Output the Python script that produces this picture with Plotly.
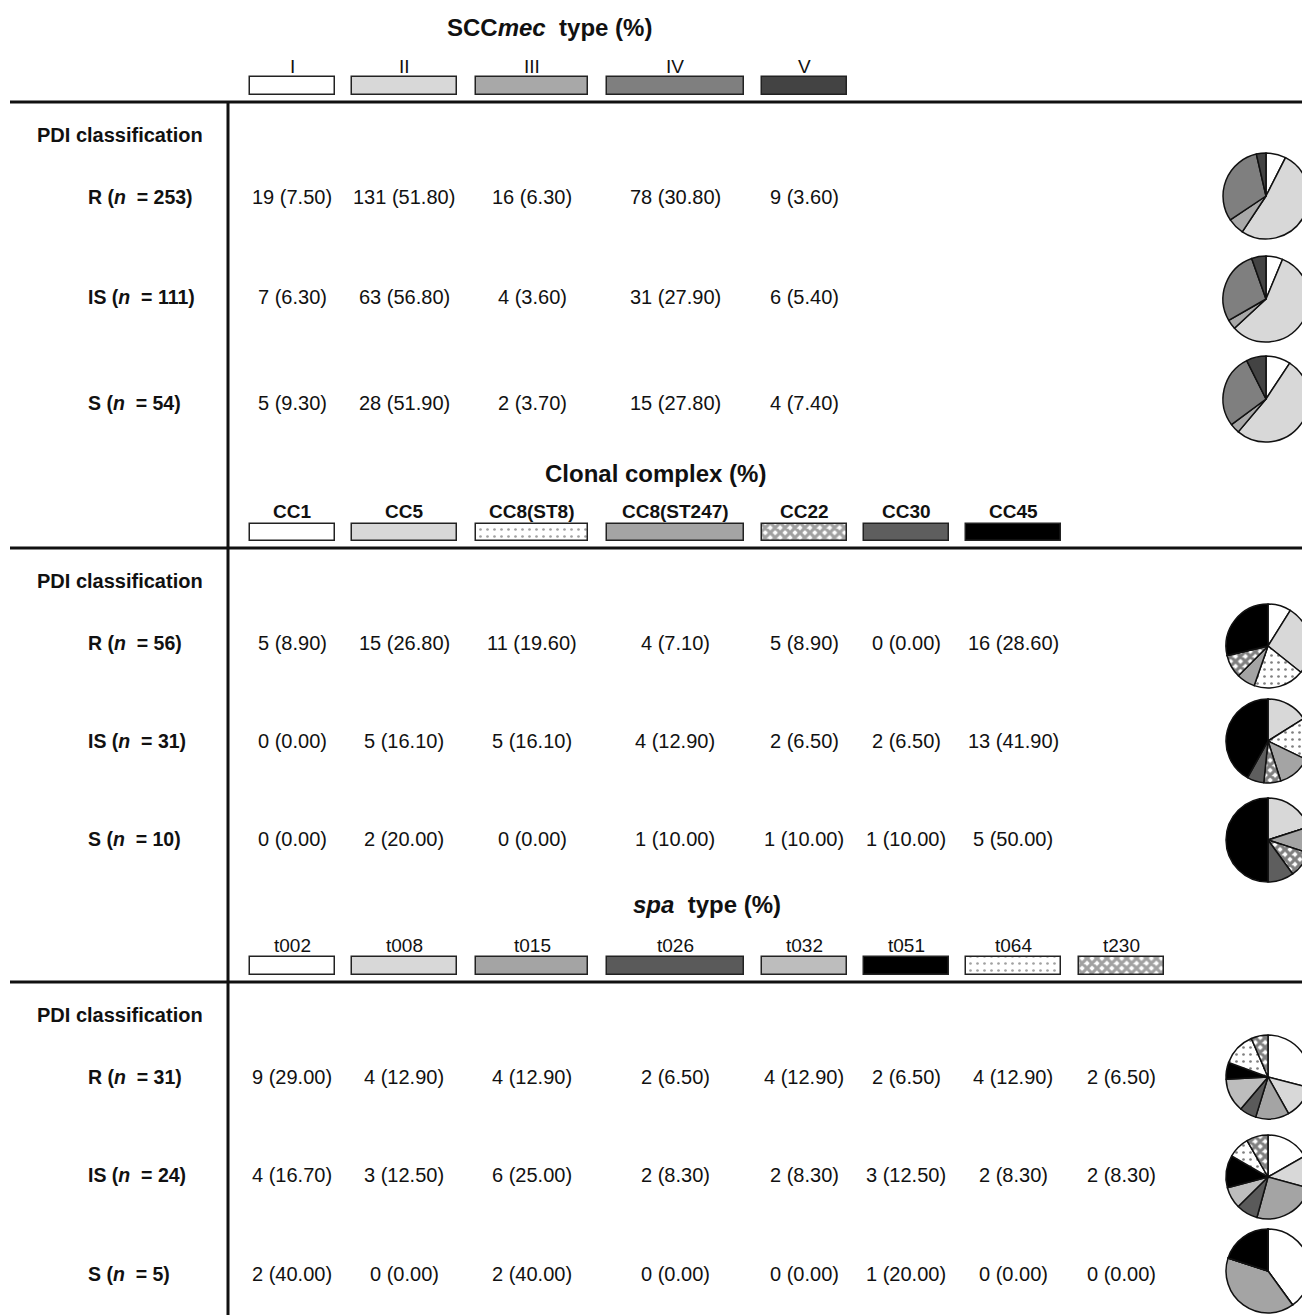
import plotly.graph_objects as go

OFF = 8  # page body margin in the browser
W, H = 1310 - OFF, 1315 - OFF  # figure size so the page fits the window without scrollbars

# ---------------- data ----------------
groups = ["R", "IS", "S"]

scc_title = "SCC<i>mec</i>  type (%)"
scc_cats = ["I", "II", "III", "IV", "V"]
scc_n = [253, 111, 54]
scc_counts = [[19, 131, 16, 78, 9], [7, 63, 4, 31, 6], [5, 28, 2, 15, 4]]
scc_pct = [[7.50, 51.80, 6.30, 30.80, 3.60],
           [6.30, 56.80, 3.60, 27.90, 5.40],
           [9.30, 51.90, 3.70, 27.80, 7.40]]

cc_title = "Clonal complex (%)"
cc_cats = ["CC1", "CC5", "CC8(ST8)", "CC8(ST247)", "CC22", "CC30", "CC45"]
cc_n = [56, 31, 10]
cc_counts = [[5, 15, 11, 4, 5, 0, 16], [0, 5, 5, 4, 2, 2, 13], [0, 2, 0, 1, 1, 1, 5]]
cc_pct = [[8.90, 26.80, 19.60, 7.10, 8.90, 0.00, 28.60],
          [0.00, 16.10, 16.10, 12.90, 6.50, 6.50, 41.90],
          [0.00, 20.00, 0.00, 10.00, 10.00, 10.00, 50.00]]

spa_title = "<i>spa</i>  type (%)"
spa_cats = ["t002", "t008", "t015", "t026", "t032", "t051", "t064", "t230"]
spa_n = [31, 24, 5]
spa_counts = [[9, 4, 4, 2, 4, 2, 4, 2], [4, 3, 6, 2, 2, 3, 2, 2], [2, 0, 2, 0, 0, 1, 0, 0]]
spa_pct = [[29.00, 12.90, 12.90, 6.50, 12.90, 6.50, 12.90, 6.50],
           [16.70, 12.50, 25.00, 8.30, 8.30, 12.50, 8.30, 8.30],
           [40.00, 0.00, 40.00, 0.00, 0.00, 20.00, 0.00, 0.00]]

# ---------------- styles ----------------
scc_colors = ["#ffffff", "#d8d8d8", "#a8a8a8", "#7f7f7f", "#434343"]
scc_shapes = ["", "", "", "", ""]
cc_colors = ["#ffffff", "#d8d8d8", "#ffffff", "#a4a4a4", "#ffffff", "#5e5e5e", "#000000"]
cc_shapes = ["", "", "dots", "", "checker", "", ""]
spa_colors = ["#ffffff", "#d8d8d8", "#a4a4a4", "#5a5a5a", "#bdbdbd", "#000000", "#ffffff", "#ffffff"]
spa_shapes = ["", "", "", "", "", "", "dots", "checker"]

col_x = [292, 404, 532, 675, 804, 906, 1013, 1121]
col_w = [85, 105, 112, 137, 85, 85, 95, 85]

FONT = "Liberation Sans, Arial, sans-serif"

sections = [
    dict(title=scc_title, title_x=549, title_y=27, cats=scc_cats, n=scc_n, counts=scc_counts,
         pct=scc_pct, colors=scc_colors, shapes=scc_shapes, lab_y=66, sw_y=86, sw_h=18,
         line_y=102, pdi_y=135, row_y=[197, 297, 403], pie_y=[196, 299, 399], pie_x=1266,
         pie_r=43, lab_bold=False),
    dict(title=cc_title, title_x=655, title_y=473, cats=cc_cats, n=cc_n, counts=cc_counts,
         pct=cc_pct, colors=cc_colors, shapes=cc_shapes, lab_y=511, sw_y=532.5, sw_h=17,
         line_y=548, pdi_y=581, row_y=[643, 741, 839], pie_y=[646, 741, 840], pie_x=1268,
         pie_r=42, lab_bold=True),
    dict(title=spa_title, title_x=707, title_y=904, cats=spa_cats, n=spa_n, counts=spa_counts,
         pct=spa_pct, colors=spa_colors, shapes=spa_shapes, lab_y=945, sw_y=966, sw_h=18,
         line_y=982, pdi_y=1015, row_y=[1077, 1175, 1274], pie_y=[1077, 1177, 1271], pie_x=1269,
         pie_r=43, lab_bold=False),
]


def pattern_for(shapes):
    sh, size, sol = [], [], []
    for s in shapes:
        if s == "dots":
            sh.append("."); size.append(7); sol.append(0.12)
        elif s == "checker":
            sh.append("x"); size.append(7); sol.append(0.7)
        else:
            sh.append(""); size.append(8); sol.append(0.3)
    return dict(shape=sh, size=size, solidity=sol, fgcolor="#000000", fillmode="overlay")


fig = go.Figure()
annotations = []
shapes = []

for sec in sections:
    k = len(sec["cats"])
    annotations.append(dict(x=sec["title_x"], y=sec["title_y"], text="<b>" + sec["title"] + "</b>",
                            showarrow=False, xanchor="center", yanchor="middle",
                            font=dict(size=24, family=FONT, color="#111")))
    for j, c in enumerate(sec["cats"]):
        t = "<b>" + c + "</b>" if sec["lab_bold"] else c
        annotations.append(dict(x=col_x[j], y=sec["lab_y"], text=t, showarrow=False,
                                xanchor="center", yanchor="middle",
                                font=dict(size=19, family=FONT, color="#111")))
    fig.add_trace(go.Bar(
        orientation="h",
        y=[sec["sw_y"]] * k,
        base=[col_x[j] - col_w[j] / 2 for j in range(k)],
        x=[col_w[j] for j in range(k)],
        width=sec["sw_h"],
        marker=dict(color=sec["colors"], line=dict(color="#222", width=1.5),
                    pattern=pattern_for(sec["shapes"])),
        hoverinfo="skip", showlegend=False, xaxis="x", yaxis="y"))
    shapes.append(dict(type="line", x0=10, x1=1320, y0=sec["line_y"], y1=sec["line_y"],
                       xref="x", yref="y", line=dict(color="#111", width=3)))
    annotations.append(dict(x=35, y=sec["pdi_y"], text="<b>PDI classification</b>", showarrow=False,
                            xanchor="left", yanchor="middle",
                            font=dict(size=20, family=FONT, color="#111")))
    for i, g in enumerate(groups):
        ry = sec["row_y"][i]
        annotations.append(dict(x=86, y=ry, text=f"<b>{g} (<i>n</i>  = {sec['n'][i]})</b>",
                                showarrow=False, xanchor="left", yanchor="middle",
                                font=dict(size=19.5, family=FONT, color="#111")))
        for j in range(k):
            annotations.append(dict(x=col_x[j], y=ry,
                                    text=f"{sec['counts'][i][j]} ({sec['pct'][i][j]:.2f})",
                                    showarrow=False, xanchor="center", yanchor="middle",
                                    font=dict(size=20, family=FONT, color="#111")))
        cy, cx, r = sec["pie_y"][i] - OFF, sec["pie_x"] - OFF, sec["pie_r"]
        fig.add_trace(go.Pie(
            values=sec["pct"][i], labels=sec["cats"], sort=False, direction="clockwise",
            rotation=0, textinfo="none", hoverinfo="label+value", showlegend=False,
            marker=dict(colors=sec["colors"], line=dict(color="#111", width=1.5),
                        pattern=pattern_for(sec["shapes"])),
            domain=dict(x=[(cx - r) / W, min(1.0, (cx + r) / W)],
                        y=[max(0.0, 1 - (cy + r) / H), 1 - (cy - r) / H])))

shapes.append(dict(type="line", x0=228, x1=228, y0=102, y1=1330, xref="x", yref="y",
                   line=dict(color="#111", width=3)))

fig.update_layout(
    width=W, height=H, margin=dict(l=0, r=0, t=0, b=0),
    paper_bgcolor="white", plot_bgcolor="white",
    xaxis=dict(range=[OFF, W + OFF], visible=False, fixedrange=True, domain=[0, 1]),
    yaxis=dict(range=[H + OFF, OFF], visible=False, fixedrange=True, domain=[0, 1]),
    annotations=annotations, shapes=shapes, barmode="overlay", bargap=0,
)

fig.write_html("out.html")
